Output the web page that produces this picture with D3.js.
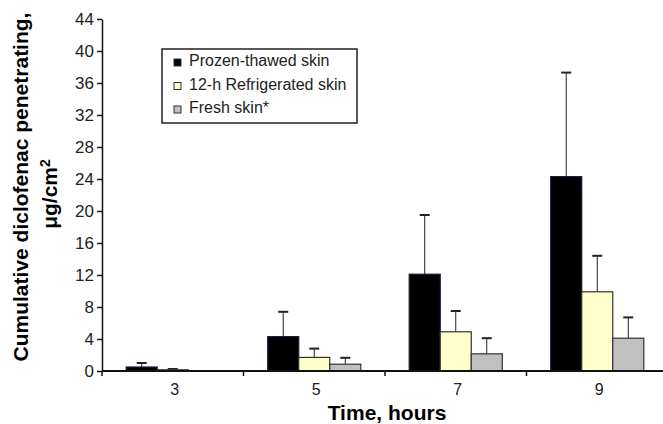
<!DOCTYPE html>
<html>
<head>
<meta charset="utf-8">
<script src="https://cdn.jsdelivr.net/npm/d3@7"></script>
<style>
  body { margin: 0; background: #fff; }
  text { font-family: "Liberation Sans", Arial, sans-serif; }
</style>
</head>
<body>
<div id="chart"></div>
<script>
// data
var times = ["3", "5", "7", "9"];
var series = ["Prozen-thawed skin", "12-h Refrigerated skin", "Fresh skin*"];
var frozen = [0.5, 4.3, 12.1, 24.3];
var frozenErr = [0.5, 3.1, 7.4, 13.0];
var fridge = [0.15, 1.7, 4.9, 9.9];
var fridgeErr = [0.1, 1.1, 2.6, 4.5];
var fresh = [0.05, 0.85, 2.15, 4.1];
var freshErr = [0.0, 0.8, 1.95, 2.6];
var yTicks = [0, 4, 8, 12, 16, 20, 24, 28, 32, 36, 40, 44];
var colors = ["#000000", "#ffffcc", "#c0c0c0"];

var width = 663, height = 424;

var svg = d3.select("#chart").append("svg")
  .attr("width", width)
  .attr("height", height);

var x = d3.scaleBand().domain(times).range([102, 668]).padding(0);
var xs = d3.scaleBand().domain(d3.range(3)).range([0, x.bandwidth()])
  .paddingInner(0).paddingOuter(0.78);
var y = d3.scaleLinear().domain([0, 44]).range([371, 19]);

var vals = [frozen, fridge, fresh];
var errs = [frozenErr, fridgeErr, freshErr];

var rows = [];
times.forEach(function(t, i) {
  for (var s = 0; s < 3; s++) {
    rows.push({t: t, s: s, v: vals[s][i], e: errs[s][i]});
  }
});

// error bars (upper only), drawn under the bars
var eb = svg.append("g").attr("class", "errors");
rows.forEach(function(d) {
  if (d.e <= 0) return;
  var cx = x(d.t) + xs(d.s) + xs.bandwidth() / 2;
  eb.append("line")
    .attr("x1", cx).attr("x2", cx)
    .attr("y1", y(d.v)).attr("y2", y(d.v + d.e))
    .attr("stroke", "#222").attr("stroke-width", 1);
  eb.append("line")
    .attr("x1", cx - 5).attr("x2", cx + 5)
    .attr("y1", y(d.v + d.e)).attr("y2", y(d.v + d.e))
    .attr("stroke", "#222").attr("stroke-width", 2);
});

svg.append("g").selectAll("rect")
  .data(rows)
  .enter().append("rect")
  .attr("x", function(d) { return x(d.t) + xs(d.s); })
  .attr("y", function(d) { return y(d.v); })
  .attr("width", xs.bandwidth())
  .attr("height", function(d) { return y(0) - y(d.v); })
  .attr("fill", function(d) { return colors[d.s]; })
  .attr("stroke", function(d) { return d.s == 0 ? "#1a1a3a" : "#333"; })
  .attr("stroke-width", 1.2);

// y axis
var yAxis = svg.append("g")
  .attr("transform", "translate(102,0)")
  .call(d3.axisLeft(y).tickValues(yTicks).tickSize(5).tickPadding(3).tickSizeOuter(0));
yAxis.selectAll("text").attr("font-size", 17).attr("fill", "#222")
  .attr("font-family", "'Liberation Sans', Arial, sans-serif");
yAxis.selectAll("line, path").attr("stroke", "#111").attr("stroke-width", 1.5);

// x axis with ticks at category boundaries
var xAxisG = svg.append("g").attr("transform", "translate(0,371)");
xAxisG.append("line").attr("x1", 102).attr("x2", 668).attr("y1", 0).attr("y2", 0)
  .attr("stroke", "#111").attr("stroke-width", 2);
xAxisG.selectAll("line.tk")
  .data(times)
  .enter().append("line").attr("class", "tk")
  .attr("x1", function(d) { return x(d); }).attr("x2", function(d) { return x(d); })
  .attr("y1", 0).attr("y2", 5)
  .attr("stroke", "#111").attr("stroke-width", 1.5);
xAxisG.selectAll("text")
  .data(times)
  .enter().append("text")
  .attr("x", function(d) { return x(d) + x.bandwidth() / 2 + 2; })
  .attr("y", 24)
  .attr("text-anchor", "middle")
  .attr("font-size", 16).attr("fill", "#222")
  .text(function(d) { return d; });

// titles
svg.append("text")
  .attr("x", 387).attr("y", 420)
  .attr("text-anchor", "middle")
  .attr("font-size", 21).attr("font-weight", "bold")
  .text("Time, hours");

svg.append("text")
  .attr("transform", "translate(28,187) rotate(-90)")
  .attr("text-anchor", "middle")
  .attr("font-size", 21).attr("font-weight", "bold")
  .text("Cumulative diclofenac penetrating,");
svg.append("text")
  .attr("transform", "translate(57,194) rotate(-90)")
  .attr("text-anchor", "middle")
  .attr("font-size", 21).attr("font-weight", "bold")
  .html("&#956;g/cm<tspan dy='-7' font-size='14'>2</tspan>");

// legend
var lg = svg.append("g").attr("transform", "translate(162,49)");
lg.append("rect").attr("width", 195).attr("height", 74)
  .attr("fill", "#fff").attr("stroke", "#222").attr("stroke-width", 1.5);
series.forEach(function(s, i) {
  var yy = 17 + i * 23.5;
  lg.append("rect").attr("x", 12).attr("y", yy - 7).attr("width", 7).attr("height", 7)
    .attr("fill", colors[i]).attr("stroke", "#333").attr("stroke-width", 1);
  lg.append("text").attr("x", 27).attr("y", yy)
    .attr("font-size", 16).attr("fill", "#222").text(s);
});
</script>
</body>
</html>
